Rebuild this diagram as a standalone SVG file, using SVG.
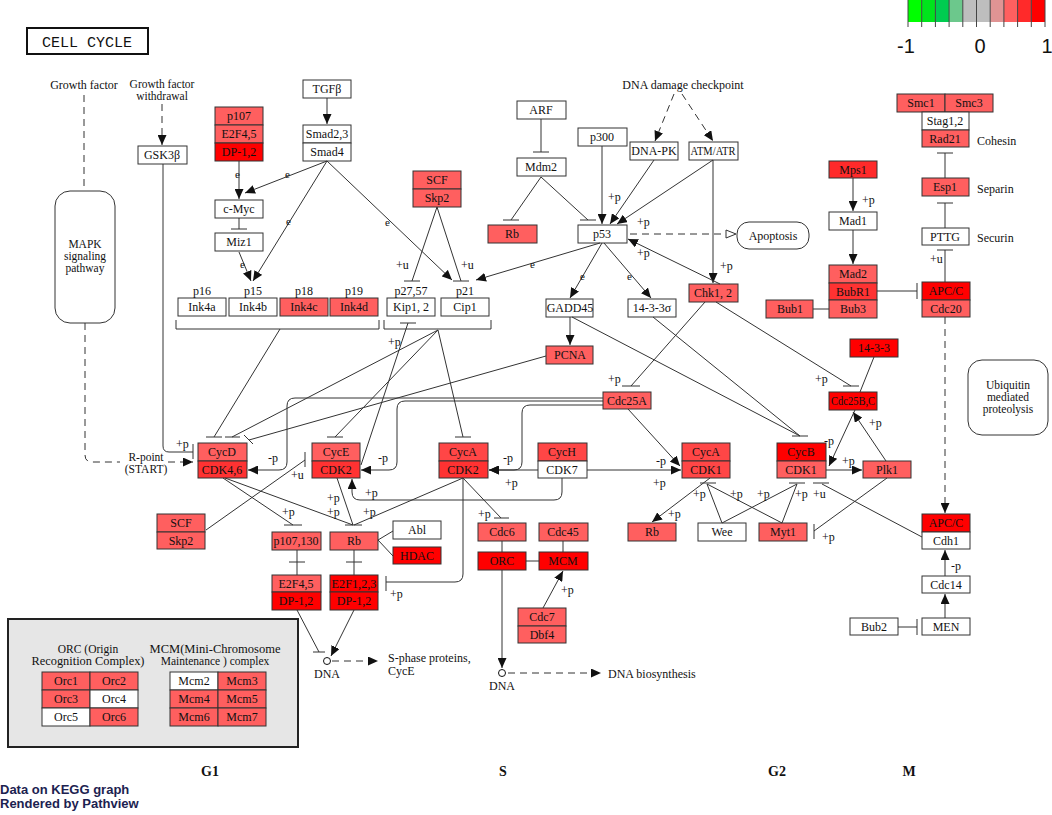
<svg xmlns="http://www.w3.org/2000/svg" width="1052" height="815" viewBox="0 0 1052 815">
<style>
.bx{stroke:#333;stroke-width:1}
.w{fill:#fff}.l{fill:#ff5f5f}.m{fill:#ff3232}.r{fill:#ff0000}.h{fill:#ff4646}
.t{font-family:"Liberation Serif",serif;font-size:12px;text-anchor:middle;fill:#111}
.t2{font-family:"Liberation Serif",serif;font-size:11.5px;text-anchor:middle;fill:#111}
.s{font-family:"Liberation Serif",serif;font-size:12px;fill:#111}
.c path{stroke:#333;fill:none;stroke-width:1}
.c path.d{stroke-dasharray:7,5}
.ph{font-family:"Liberation Serif",serif;font-size:14px;font-weight:bold;text-anchor:middle;fill:#111}
.cb{font-family:"Liberation Sans",Arial,sans-serif;font-size:20px;text-anchor:middle;fill:#111}
</style>
<defs>
<marker id="a" markerWidth="10" markerHeight="9" refX="10" refY="4.5" orient="auto" markerUnits="userSpaceOnUse"><path d="M0,0 L10,4.5 L0,9z" fill="#111"/></marker>
<marker id="o" markerWidth="12" markerHeight="10" refX="11" refY="5" orient="auto" markerUnits="userSpaceOnUse"><path d="M1,1 L11,5 L1,9z" fill="#fff" stroke="#333"/></marker>
</defs>
<rect width="1052" height="815" fill="#fff"/>

<g id="colorbar">
<rect x="908" y="0" width="13.7" height="22" fill="#00ff00"/>
<rect x="921.7" y="0" width="13.7" height="22" fill="#00e41c"/>
<rect x="935.4" y="0" width="13.7" height="22" fill="#00cc50"/>
<rect x="949.1" y="0" width="13.7" height="22" fill="#6cc88c"/>
<rect x="962.8" y="0" width="13.7" height="22" fill="#bebebe"/>
<rect x="976.5" y="0" width="13.7" height="22" fill="#bebebe"/>
<rect x="990.2" y="0" width="13.7" height="22" fill="#e09494"/>
<rect x="1003.9" y="0" width="13.7" height="22" fill="#ff5f5f"/>
<rect x="1017.6" y="0" width="13.7" height="22" fill="#ff2a2a"/>
<rect x="1031.3" y="0" width="13.7" height="22" fill="#ff0000"/>
<path d="M908,0V27M921.7,0V27M935.4,0V27M949.1,0V27M962.8,0V27M976.5,0V27M990.2,0V27M1003.9,0V27M1017.6,0V27M1031.3,0V27M1045,0V27" stroke="#444" stroke-width="1"/>
<text class="cb" x="906" y="53">-1</text>
<text class="cb" x="980" y="53">0</text>
<text class="cb" x="1047" y="53">1</text>
</g>

<g id="title"><rect x="27" y="28" width="121" height="26" fill="#fff" stroke="#111" stroke-width="2"/><text x="87" y="47" font-family="Liberation Mono,monospace" font-size="15" text-anchor="middle" fill="#111">CELL CYCLE</text></g>
<g id="growth-factor"><text class="t" x="84" y="89">Growth factor</text></g>
<g id="growth-factor-withdrawal"><text class="t2" x="162" y="88">Growth factor</text><text class="t2" x="162" y="100">withdrawal</text></g>
<g id="mapk"><rect class="bx w" x="55" y="191" width="60" height="132" rx="15"/><text class="t2" x="85" y="248">MAPK</text><text class="t2" x="85" y="260">signaling</text><text class="t2" x="85" y="272">pathway</text></g>
<g id="gsk3b"><rect class="bx w" x="138" y="146" width="49" height="18"/><text class="t" x="162" y="159">GSK3β</text></g>
<g id="p107-top"><rect class="bx l" x="215" y="107" width="48" height="18"/><rect class="bx l" x="215" y="125" width="48" height="18"/><rect class="bx r" x="215" y="143" width="48" height="18"/><text class="t" x="239" y="120">p107</text><text class="t" x="239" y="138">E2F4,5</text><text class="t" x="239" y="156">DP-1,2</text></g>
<g id="tgfb"><rect class="bx w" x="303" y="80" width="48" height="18"/><text class="t" x="327" y="93">TGFβ</text></g>
<g id="smad"><rect class="bx w" x="303" y="125" width="48" height="18"/><rect class="bx w" x="303" y="143" width="48" height="18"/><text class="t" x="327" y="138">Smad2,3</text><text class="t" x="327" y="156">Smad4</text></g>
<g id="cmyc"><rect class="bx w" x="215" y="200" width="48" height="18"/><text class="t" x="239" y="213">c-Myc</text></g>
<g id="miz1"><rect class="bx w" x="215" y="233" width="48" height="18"/><text class="t" x="239" y="246">Miz1</text></g>
<g id="ink4"><rect class="bx w" x="178" y="298" width="48" height="18"/><rect class="bx w" x="229" y="298" width="48" height="18"/><rect class="bx l" x="280" y="298" width="48" height="18"/><rect class="bx l" x="330" y="298" width="48" height="18"/>
<text class="t" x="202" y="311">Ink4a</text><text class="t" x="253" y="311">Ink4b</text><text class="t" x="304" y="311">Ink4c</text><text class="t" x="354" y="311">Ink4d</text>
<text class="t" x="202" y="295">p16</text><text class="t" x="253" y="295">p15</text><text class="t" x="304" y="295">p18</text><text class="t" x="354" y="295">p19</text></g>
<g id="kip"><rect class="bx w" x="387" y="298" width="48" height="18"/><text class="t" x="411" y="311">Kip1, 2</text><text class="t" x="411" y="295">p27,57</text></g>
<g id="cip1"><rect class="bx w" x="441" y="298" width="48" height="18"/><text class="t" x="465" y="311">Cip1</text><text class="t" x="465" y="295">p21</text></g>
<g id="scf-top"><rect class="bx l" x="413" y="171" width="48" height="18"/><rect class="bx l" x="413" y="189" width="48" height="18"/><text class="t" x="437" y="184">SCF</text><text class="t" x="437" y="202">Skp2</text></g>
<g id="arf"><rect class="bx w" x="517" y="101" width="49" height="18"/><text class="t" x="541" y="114">ARF</text></g>
<g id="mdm2"><rect class="bx w" x="517" y="158" width="49" height="18"/><text class="t" x="541" y="171">Mdm2</text></g>
<g id="rb-top"><rect class="bx l" x="488" y="225" width="49" height="18"/><text class="t" x="512" y="238">Rb</text></g>
<g id="p300"><rect class="bx w" x="578" y="128" width="49" height="18"/><text class="t" x="602" y="141">p300</text></g>
<g id="p53"><rect class="bx w" x="578" y="225" width="49" height="18"/><text class="t" x="602" y="238">p53</text></g>
<g id="dnapk"><rect class="bx w" x="630" y="142" width="48" height="18"/><text class="t" x="654" y="155">DNA-PK</text></g>
<g id="atmatr"><rect class="bx w" x="689" y="142" width="49" height="18"/><text class="t" x="713" y="155" textLength="45" lengthAdjust="spacingAndGlyphs">ATM/ATR</text></g>
<g id="dna-damage"><text class="t" x="683" y="89">DNA damage checkpoint</text></g>
<g id="apoptosis"><rect class="bx w" x="737" y="222" width="72" height="27" rx="12"/><text class="t" x="773" y="240">Apoptosis</text></g>
<g id="gadd45"><rect class="bx w" x="546" y="299" width="47" height="18"/><text class="t" x="570" y="312">GADD45</text></g>
<g id="s1433s"><rect class="bx w" x="628" y="299" width="48" height="18"/><text class="t" x="652" y="312">14-3-3σ</text></g>
<g id="pcna"><rect class="bx l" x="546" y="346" width="47" height="18"/><text class="t" x="570" y="359">PCNA</text></g>
<g id="chk"><rect class="bx l" x="689" y="284" width="49" height="18"/><text class="t" x="713" y="297">Chk1, 2</text></g>
<g id="cohesin"><rect class="bx l" x="897" y="94" width="48" height="18"/><rect class="bx l" x="945" y="94" width="48" height="18"/><rect class="bx w" x="922" y="112" width="47" height="18"/><rect class="bx l" x="922" y="130" width="47" height="17"/>
<text class="t" x="921" y="107">Smc1</text><text class="t" x="969" y="107">Smc3</text><text class="t" x="945" y="125">Stag1,2</text><text class="t" x="945" y="143">Rad21</text><text class="s" x="977" y="145">Cohesin</text></g>
<g id="esp1"><rect class="bx l" x="922" y="178" width="47" height="18"/><text class="t" x="945" y="191">Esp1</text><text class="s" x="977" y="193">Separin</text></g>
<g id="pttg"><rect class="bx w" x="922" y="228" width="47" height="17"/><text class="t" x="945" y="241">PTTG</text><text class="s" x="977" y="242">Securin</text></g>
<g id="mps1"><rect class="bx" fill="#ff2a2a" x="829" y="161" width="48" height="17"/><text class="t" x="853" y="174">Mps1</text></g>
<g id="mad1"><rect class="bx w" x="829" y="212" width="48" height="18"/><text class="t" x="853" y="225">Mad1</text></g>
<g id="mad2"><rect class="bx l" x="829" y="265" width="48" height="18"/><rect class="bx m" x="829" y="283" width="48" height="17"/><rect class="bx l" x="829" y="300" width="48" height="18"/><text class="t" x="853" y="278">Mad2</text><text class="t" x="853" y="296">BubR1</text><text class="t" x="853" y="313">Bub3</text></g>
<g id="bub1"><rect class="bx l" x="766" y="300" width="47" height="18"/><text class="t" x="790" y="313">Bub1</text></g>
<g id="apc-cdc20"><rect class="bx r" x="922" y="282" width="48" height="18"/><rect class="bx l" x="922" y="300" width="48" height="17"/><text class="t" x="946" y="295">APC/C</text><text class="t" x="946" y="313">Cdc20</text></g>
<g id="s1433"><rect class="bx r" x="850" y="339" width="48" height="18"/><text class="t" x="874" y="352">14-3-3</text></g>
<g id="cdc25bc"><rect class="bx r" x="829" y="392" width="48" height="18"/><text class="t" x="853" y="405" textLength="44" lengthAdjust="spacingAndGlyphs">Cdc25B,C</text></g>
<g id="cdc25a"><rect class="bx l" x="603" y="392" width="48" height="17"/><text class="t" x="627" y="405">Cdc25A</text></g>
<g id="ubiquitin"><rect class="bx w" x="968" y="360" width="80" height="75" rx="14"/><text class="t2" x="1008" y="389">Ubiquitin</text><text class="t2" x="1008" y="401">mediated</text><text class="t2" x="1008" y="413">proteolysis</text></g>
<g id="cycd"><rect class="bx l" x="198" y="443" width="49" height="18"/><rect class="bx m" x="198" y="461" width="49" height="17"/><text class="t" x="222" y="456">CycD</text><text class="t" x="222" y="474">CDK4,6</text></g>
<g id="cyce"><rect class="bx l" x="312" y="443" width="48" height="18"/><rect class="bx m" x="312" y="461" width="48" height="17"/><text class="t" x="336" y="456">CycE</text><text class="t" x="336" y="474">CDK2</text></g>
<g id="cyca-cdk2"><rect class="bx h" x="439" y="443" width="49" height="18"/><rect class="bx m" x="439" y="461" width="49" height="17"/><text class="t" x="463" y="456">CycA</text><text class="t" x="463" y="474">CDK2</text></g>
<g id="cych"><rect class="bx h" x="538" y="443" width="49" height="18"/><rect class="bx w" x="538" y="461" width="49" height="17"/><text class="t" x="562" y="456">CycH</text><text class="t" x="562" y="474">CDK7</text></g>
<g id="cyca-cdk1"><rect class="bx h" x="682" y="443" width="48" height="18"/><rect class="bx h" x="682" y="461" width="48" height="17"/><text class="t" x="706" y="456">CycA</text><text class="t" x="706" y="474">CDK1</text></g>
<g id="cycb"><rect class="bx r" x="777" y="443" width="49" height="18"/><rect class="bx l" x="777" y="461" width="49" height="17"/><text class="t" x="801" y="456">CycB</text><text class="t" x="801" y="474">CDK1</text></g>
<g id="plk1"><rect class="bx l" x="863" y="461" width="48" height="17"/><text class="t" x="887" y="474">Plk1</text></g>
<g id="scf-bottom"><rect class="bx l" x="157" y="514" width="48" height="18"/><rect class="bx l" x="157" y="532" width="48" height="17"/><text class="t" x="181" y="527">SCF</text><text class="t" x="181" y="545">Skp2</text></g>
<g id="p107-130"><rect class="bx l" x="272" y="532" width="49" height="18"/><text class="t" x="296" y="545" textLength="45" lengthAdjust="spacingAndGlyphs">p107,130</text></g>
<g id="rb-mid"><rect class="bx l" x="330" y="532" width="48" height="18"/><text class="t" x="354" y="545">Rb</text></g>
<g id="abl"><rect class="bx w" x="393" y="521" width="48" height="18"/><text class="t" x="417" y="534">Abl</text></g>
<g id="hdac"><rect class="bx r" x="393" y="547" width="48" height="17"/><text class="t" x="417" y="560">HDAC</text></g>
<g id="e2f45"><rect class="bx l" x="272" y="575" width="49" height="17"/><rect class="bx r" x="272" y="592" width="49" height="18"/><text class="t" x="296" y="588">E2F4,5</text><text class="t" x="296" y="605">DP-1,2</text></g>
<g id="e2f123"><rect class="bx r" x="330" y="575" width="48" height="17"/><rect class="bx r" x="330" y="592" width="48" height="18"/><text class="t" x="354" y="588" textLength="45" lengthAdjust="spacingAndGlyphs">E2F1,2,3</text><text class="t" x="354" y="605">DP-1,2</text></g>
<g id="cdc6"><rect class="bx l" x="478" y="523" width="48" height="18"/><text class="t" x="502" y="536">Cdc6</text></g>
<g id="cdc45"><rect class="bx l" x="539" y="523" width="49" height="18"/><text class="t" x="563" y="536">Cdc45</text></g>
<g id="orc"><rect class="bx r" x="478" y="552" width="48" height="18"/><text class="t" x="502" y="565">ORC</text></g>
<g id="mcm"><rect class="bx r" x="539" y="552" width="49" height="18"/><text class="t" x="563" y="565">MCM</text></g>
<g id="cdc7"><rect class="bx l" x="518" y="608" width="48" height="18"/><rect class="bx l" x="518" y="626" width="48" height="17"/><text class="t" x="542" y="621">Cdc7</text><text class="t" x="542" y="639">Dbf4</text></g>
<g id="rb-right"><rect class="bx l" x="628" y="523" width="48" height="18"/><text class="t" x="652" y="536">Rb</text></g>
<g id="wee"><rect class="bx w" x="698" y="523" width="48" height="18"/><text class="t" x="722" y="536">Wee</text></g>
<g id="myt1"><rect class="bx l" x="759" y="523" width="48" height="18"/><text class="t" x="783" y="536">Myt1</text></g>
<g id="apc-cdh1"><rect class="bx r" x="922" y="514" width="48" height="18"/><rect class="bx w" x="922" y="532" width="48" height="17"/><text class="t" x="946" y="527">APC/C</text><text class="t" x="946" y="545">Cdh1</text></g>
<g id="cdc14"><rect class="bx w" x="922" y="576" width="48" height="17"/><text class="t" x="946" y="589">Cdc14</text></g>
<g id="men"><rect class="bx w" x="922" y="618" width="48" height="17"/><text class="t" x="946" y="631">MEN</text></g>
<g id="bub2"><rect class="bx w" x="850" y="618" width="48" height="17"/><text class="t" x="874" y="631">Bub2</text></g>
<g id="dna1"><circle cx="327" cy="661" r="3.5" fill="#fff" stroke="#111"/><text class="t" x="327" y="678">DNA</text></g>
<g id="dna2"><circle cx="502" cy="673" r="3.5" fill="#fff" stroke="#111"/><text class="t" x="502" y="690">DNA</text></g>
<g id="sphase"><text class="s" x="388" y="662">S-phase proteins,</text><text class="s" x="388" y="675">CycE</text></g>
<g id="dnabio"><text class="s" x="608" y="678">DNA biosynthesis</text></g>
<g id="rpoint"><text class="t2" x="146" y="461">R-point</text><text class="t2" x="146" y="473">(START)</text></g>

<g id="legend">
<rect x="8" y="619" width="290" height="128" fill="#e6e6e6" stroke="#222" stroke-width="2"/>
<text class="t2" x="88" y="653">ORC (Origin</text><text class="t2" x="88" y="665" textLength="113" lengthAdjust="spacingAndGlyphs">Recognition Complex)</text>
<text class="t2" x="215" y="653" textLength="131" lengthAdjust="spacingAndGlyphs">MCM(Mini-Chromosome</text><text class="t2" x="215" y="665">Maintenance ) complex</text>
<rect class="bx l" x="42" y="672" width="48" height="18"/><rect class="bx l" x="90" y="672" width="48" height="18"/>
<rect class="bx l" x="42" y="690" width="48" height="18"/><rect class="bx w" x="90" y="690" width="48" height="18"/>
<rect class="bx w" x="42" y="708" width="48" height="18"/><rect class="bx l" x="90" y="708" width="48" height="18"/>
<text class="t" x="66" y="685">Orc1</text><text class="t" x="114" y="685">Orc2</text><text class="t" x="66" y="703">Orc3</text><text class="t" x="114" y="703">Orc4</text><text class="t" x="66" y="721">Orc5</text><text class="t" x="114" y="721">Orc6</text>
<rect class="bx w" x="170" y="672" width="48" height="18"/><rect class="bx l" x="218" y="672" width="48" height="18"/>
<rect class="bx l" x="170" y="690" width="48" height="18"/><rect class="bx l" x="218" y="690" width="48" height="18"/>
<rect class="bx l" x="170" y="708" width="48" height="18"/><rect class="bx l" x="218" y="708" width="48" height="18"/>
<text class="t" x="194" y="685">Mcm2</text><text class="t" x="242" y="685">Mcm3</text><text class="t" x="194" y="703">Mcm4</text><text class="t" x="242" y="703">Mcm5</text><text class="t" x="194" y="721">Mcm6</text><text class="t" x="242" y="721">Mcm7</text>
</g>

<g id="phases"><text class="ph" x="210" y="776">G1</text><text class="ph" x="503" y="776">S</text><text class="ph" x="777" y="776">G2</text><text class="ph" x="909" y="776">M</text></g>
<g id="footer" font-family="Liberation Sans,Arial,sans-serif" font-size="13" font-weight="bold" fill="#1c2250"><text x="0" y="794">Data on KEGG graph</text><text x="0" y="808">Rendered by Pathview</text></g>

<g id="connectors" class="c">
<path class="d" d="M84,95V191"/>
<path class="d" d="M162,104V145" marker-end="url(#a)"/>
<path class="d" d="M85,323V455Q85,462 92,462H120"/>
<path class="d" d="M168,462H193" marker-end="url(#a)"/>
<path class="d" d="M674,94L655,141" marker-end="url(#a)"/>
<path class="d" d="M682,94L713,141" marker-end="url(#a)"/>
<path class="d" d="M630,234H736" marker-end="url(#o)"/>
<path class="d" d="M945,317V513" marker-end="url(#a)"/>
<path class="d" d="M332,661H378" marker-end="url(#a)"/>
<path class="d" d="M508,673H601" marker-end="url(#a)"/>

<path d="M327,98V124" marker-end="url(#a)"/>
<path d="M163,164V446Q163,452 169,452H193M193,444V459"/>
<path d="M239,161V199" marker-end="url(#a)"/>
<path d="M327,161L245,193" marker-end="url(#a)"/>
<path d="M239,218V229M231,229H247"/>
<path d="M327,161L253,281" marker-end="url(#a)"/>
<path d="M239,252L251,281" marker-end="url(#a)"/>
<path d="M327,161L452,280" marker-end="url(#a)"/>
<path d="M437,207L412,281M404,281H420"/>
<path d="M437,207L461,281M453,281H469"/>
<path d="M541,119V152M533,152H549"/>
<path d="M541,177L511,220M503,220H519"/>
<path d="M541,177L588,220M580,220H596"/>
<path d="M602,146V224" marker-end="url(#a)"/>
<path d="M654,160L610,224" marker-end="url(#a)"/>
<path d="M713,160L617,224" marker-end="url(#a)"/>
<path d="M713,160V283" marker-end="url(#a)"/>
<path d="M720,284L628,239" marker-end="url(#a)"/>
<path d="M600,243L476,280" marker-end="url(#a)"/>
<path d="M602,243L570,298" marker-end="url(#a)"/>
<path d="M604,243L651,298" marker-end="url(#a)"/>
<path d="M570,317V345" marker-end="url(#a)"/>
<path d="M853,178V211" marker-end="url(#a)"/>
<path d="M853,230V264" marker-end="url(#a)"/>
<path d="M813,309H829"/>
<path d="M877,291H917M917,283V299"/>
<path d="M945,178V153M937,153H953"/>
<path d="M945,228V203M937,203H953"/>
<path d="M945,282V250M937,250H953"/>
<path d="M705,302L631,386M622,386H640"/>
<path d="M716,302L851,386M843,386H859"/>
<path d="M572,317L800,436M792,436H808"/>
<path d="M653,317L800,436"/>
<path d="M874,357L860,392"/>
<path d="M886,461L853,412" marker-end="url(#a)"/>
<path d="M855,410L829,466" marker-end="url(#a)"/>
<path d="M826,470H862" marker-end="url(#a)"/>
<path d="M628,409L680,466" marker-end="url(#a)"/>
<path d="M587,470H681" marker-end="url(#a)"/>
<path d="M538,470H489" marker-end="url(#a)"/>
<path d="M562,478V492Q562,500 554,500H360Q352,500 352,492V479" marker-end="url(#a)"/>
<path d="M603,398H295Q287,398 287,406V462Q287,470 279,470H248" marker-end="url(#a)"/>
<path d="M603,401H405Q397,401 397,409V462Q397,470 389,470H361" marker-end="url(#a)"/>
<path d="M603,405H530Q522,405 522,413V462Q522,470 514,470H489" marker-end="url(#a)"/>
<path d="M176,320V329H379V320"/>
<path d="M384,320V329H491V320"/>
<path d="M280,329L214,437M206,437H222"/>
<path d="M438,330L232,437M225,437H240"/>
<path d="M438,330L335,437M327,437H343"/>
<path d="M438,330L463,437M455,437H471"/>
<path d="M546,356L249,440M244,435L253,444"/>
<path d="M361,465L408,323M400,323H416"/>
<path d="M206,530L305,460M305,452V467"/>
<path d="M223,478L293,525M284,525H302"/>
<path d="M225,478L353,525M345,525H362"/>
<path d="M337,478L353,525"/>
<path d="M463,478L354,525"/>
<path d="M297,550V575M289,562H305"/>
<path d="M354,550V575M346,562H362"/>
<path d="M378,540L393,531M378,540L393,556"/>
<path d="M463,478V574Q463,582 455,582H386M386,576V591"/>
<path d="M463,478L501,518M494,518H509"/>
<path d="M297,610L319,652M313,652H325"/>
<path d="M354,610L331,656" marker-end="url(#a)"/>
<path d="M502,541V552M563,541V552M526,561H539"/>
<path d="M543,608L563,571" marker-end="url(#a)"/>
<path d="M502,570V668" marker-end="url(#a)"/>
<path d="M710,478L652,522" marker-end="url(#a)"/>
<path d="M722,523L707,484M782,523L707,484M700,483H716"/>
<path d="M722,523L797,484M782,523L797,484M789,483H805"/>
<path d="M922,537L822,484M813,483H829"/>
<path d="M887,478L814,531M814,524V539"/>
<path d="M945,576V550" marker-end="url(#a)"/>
<path d="M945,618V594" marker-end="url(#a)"/>
<path d="M898,627H917M917,619V635"/>
</g>

<g id="edge-labels" class="s">
<text x="176" y="448">+p</text>
<text x="235" y="178" font-size="11">e</text>
<text x="285" y="178" font-size="11">e</text>
<text x="286" y="225" font-size="11">e</text>
<text x="240" y="268" font-size="11">e</text>
<text x="385" y="226" font-size="11">e</text>
<text x="396" y="269">+u</text>
<text x="461" y="269">+u</text>
<text x="608" y="201">+p</text>
<text x="637" y="226">+p</text>
<text x="637" y="257">+p</text>
<text x="720" y="270">+p</text>
<text x="530" y="268" font-size="11">e</text>
<text x="580" y="280" font-size="11">e</text>
<text x="627" y="280" font-size="11">e</text>
<text x="862" y="204">+p</text>
<text x="930" y="263">+u</text>
<text x="608" y="383">+p</text>
<text x="815" y="383">+p</text>
<text x="869" y="427">+p</text>
<text x="824" y="445">-p</text>
<text x="842" y="465">+p</text>
<text x="656" y="465">-p</text>
<text x="653" y="487">+p</text>
<text x="505" y="487">+p</text>
<text x="365" y="497">+p</text>
<text x="268" y="462">-p</text>
<text x="378" y="462">-p</text>
<text x="503" y="462">-p</text>
<text x="388" y="346">+p</text>
<text x="291" y="479">+u</text>
<text x="282" y="516">+p</text>
<text x="327" y="502">+p</text>
<text x="327" y="516">+p</text>
<text x="363" y="516">+p</text>
<text x="390" y="598">+p</text>
<text x="478" y="518">+p</text>
<text x="561" y="594">+p</text>
<text x="668" y="518">+p</text>
<text x="693" y="498">+p</text>
<text x="730" y="498">+p</text>
<text x="757" y="498">+p</text>
<text x="795" y="498">+p</text>
<text x="813" y="498">+u</text>
<text x="822" y="541">+p</text>
<text x="951" y="570">-p</text>
</g>
</svg>
